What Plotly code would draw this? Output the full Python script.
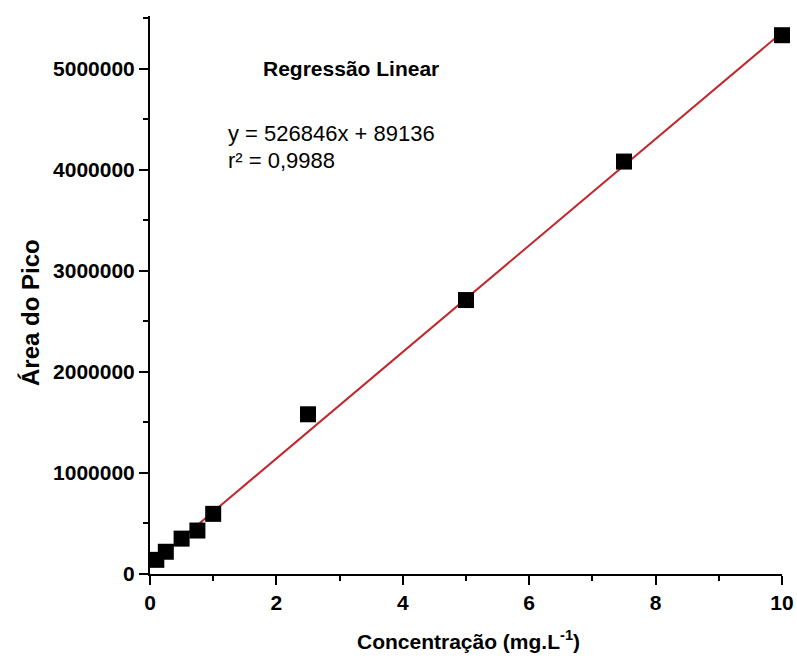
import plotly.graph_objects as go

concentracao = [0.1, 0.25, 0.5, 0.75, 1.0, 2.5, 5.0, 7.5, 10.0]
area_pico = [140000, 220000, 350000, 430000, 595000, 1580000, 2710000, 4080000, 5330000]
slope = 526846
intercept = 89136
fit_x = [0, 10]
fit_y = [slope * x + intercept for x in fit_x]
x_ticks = [0, 2, 4, 6, 8, 10]
y_ticks = [0, 1000000, 2000000, 3000000, 4000000, 5000000]

FONT = "Liberation Sans, Arial"
W, H = 797, 666
L, R, T, B = 150, 15, 16, 92
PW, PH = W - L - R, H - T - B

fig = go.Figure()
fig.add_trace(go.Scatter(x=fit_x, y=fit_y, mode="lines",
                         line=dict(color="#c0282d", width=2), showlegend=False))
fig.add_trace(go.Scatter(x=concentracao, y=area_pico, mode="markers",
                         marker=dict(symbol="square", size=16, color="black"),
                         cliponaxis=False, showlegend=False))

tickfont = dict(family=FONT, size=21, color="black")

fig.update_layout(
    width=W, height=H,
    margin=dict(l=L, r=R, t=T, b=B),
    paper_bgcolor="white", plot_bgcolor="white",
    font=dict(family=FONT, color="black"),
    xaxis=dict(range=[0, 10], tickvals=x_ticks, ticktext=[f"<b>{v}</b>" for v in x_ticks],
               showline=True, linecolor="black", linewidth=2, automargin=False,
               ticks="outside", ticklen=9, tickwidth=2, tickcolor="black",
               ticklabeloverflow="allow",
               minor=dict(tickvals=[1, 3, 5, 7, 9], ticks="outside", ticklen=5, tickwidth=2, tickcolor="black"),
               showgrid=False, zeroline=False, tickfont=tickfont),
    yaxis=dict(range=[0, 5520000], tickvals=y_ticks, ticktext=[f"<b>{v}</b>" for v in y_ticks],
               showline=True, linecolor="black", linewidth=2, automargin=False,
               ticks="outside", ticklen=9, tickwidth=2, tickcolor="black",
               minor=dict(tickvals=[500000, 1500000, 2500000, 3500000, 4500000, 5500000], ticks="outside", ticklen=5, tickwidth=2, tickcolor="black"),
               showgrid=False, zeroline=False, tickfont=tickfont),
)

def px(xw):
    return (xw - L) / PW

def py(yw):
    return (H - B - yw) / PH

fig.add_annotation(x=px(351), y=py(69), xref="paper", yref="paper",
                   text="<b>Regressão Linear</b>", showarrow=False,
                   xanchor="center", yanchor="middle",
                   font=dict(family=FONT, size=21, color="black"))
fig.add_annotation(x=px(226), y=py(133), xref="paper", yref="paper",
                   text="y = 526846x + 89136", showarrow=False,
                   xanchor="left", yanchor="middle",
                   font=dict(family=FONT, size=22, color="black"))
fig.add_annotation(x=px(226), y=py(161), xref="paper", yref="paper",
                   text="r² = 0,9988", showarrow=False,
                   xanchor="left", yanchor="middle",
                   font=dict(family=FONT, size=22, color="black"))
fig.add_annotation(x=px(468), y=py(640), xref="paper", yref="paper",
                   text="<b>Concentração (mg.L<sup>-1</sup>)</b>", showarrow=False,
                   xanchor="center", yanchor="middle",
                   font=dict(family=FONT, size=21, color="black"))
fig.add_annotation(x=px(30), y=py(312), xref="paper", yref="paper",
                   text="<b>Área do Pico</b>", showarrow=False, textangle=-90,
                   xanchor="center", yanchor="middle",
                   font=dict(family=FONT, size=24, color="black"))

fig.write_html("out.html", config={"displayModeBar": False},
               post_script="document.body.style.margin='0';document.body.style.overflow='hidden';")
